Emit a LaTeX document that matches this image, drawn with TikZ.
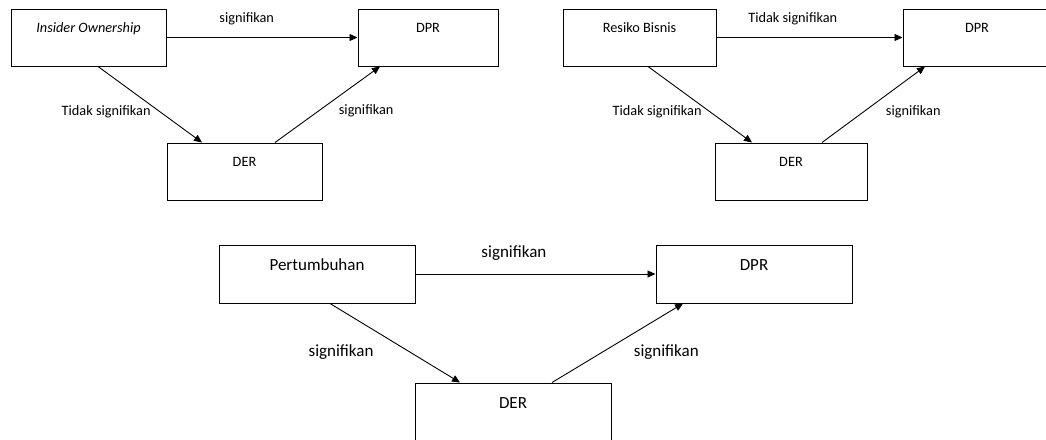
\documentclass[tikz,border=0pt]{standalone}
\usepackage{fontspec}
\setmainfont{Carlito}
\usetikzlibrary{arrows.meta}

\tikzset{
  boxtop/.style={draw,line width=1pt,inner sep=0pt,minimum height=57pt,
    text height=23.6pt,text depth=33.4pt,font=\fontsize{14.3}{17}\selectfont},
  boxbot/.style={draw,line width=1pt,inner sep=0pt,minimum width=196pt,
    text height=25.5pt,text depth=32.5pt,font=\fontsize{17}{20}\selectfont},
  arr/.style={line width=0.9pt,-{Triangle[length=8pt,width=7pt]}},
  lbltop/.style={font=\fontsize{14.3}{17}\selectfont},
  lblbot/.style={font=\fontsize{17}{20}\selectfont}
}

\begin{document}
\begin{tikzpicture}[x=1pt,y=-1pt]
        \useasboundingbox (0,0) rectangle (1046,439);

        % kiri atas
        \draw (88.5,37.5) node[boxtop,minimum width=155pt] (io) {\textit{Insider Ownership}};
        \draw (428,37.5) node[boxtop,minimum width=140pt] (dprA) {DPR};
        \draw (244.5,171.5) node[boxtop,minimum width=155pt] (derA) {DER};
        \draw[arr] (io)--(dprA) node[lbltop,above=8.7pt,pos=.42] {signifikan};
        \draw[arr] ([xshift=9.5pt]io.south)--([xshift=-42.5pt]derA.north)
        node[lbltop,left=6pt,pos=.6] {Tidak signifikan};
        \draw[arr] ([xshift=30.5pt]derA.north)--([xshift=-48pt]dprA.south)
        node[lbltop,right=16pt,pos=.42] {signifikan};

        % kanan atas
        \draw (639.5,37.5) node[boxtop,minimum width=153pt] (rb) {Resiko Bisnis};
        \draw (977,37.5) node[boxtop,minimum width=148pt] (dprB) {DPR};
        \draw (791,171.5) node[boxtop,minimum width=152pt] (derB) {DER};
        \draw[arr] (rb)--(dprB) node[lbltop,above=8.7pt,pos=.41] {Tidak signifikan};
        \draw[arr] ([xshift=8.5pt]rb.south)--([xshift=-39pt]derB.north)
        node[lbltop,left=5pt,pos=.6] {Tidak signifikan};
        \draw[arr] ([xshift=31pt]derB.north)--([xshift=-52pt]dprB.south)
        node[lbltop,right=19pt,pos=.4] {signifikan};

        % bawah
        \draw (317,274) node[boxbot] (pt) {Pertumbuhan};
        \draw (754,274) node[boxbot] (dprC) {DPR};
        \draw (513,412) node[boxbot] (derC) {DER};
        \draw[arr] (pt)--(dprC) node[lblbot,above=9.3pt,pos=.41] {signifikan};
        \draw[arr] ([xshift=13pt]pt.south)--([xshift=-53pt]derC.north)
        node[lblbot,left=32pt,pos=.61] {signifikan};
        \draw[arr] ([xshift=39pt]derC.north)--([xshift=-71pt]dprC.south)
        node[lblbot,right=27pt,pos=.39] {signifikan};
\end{tikzpicture}
\end{document}
